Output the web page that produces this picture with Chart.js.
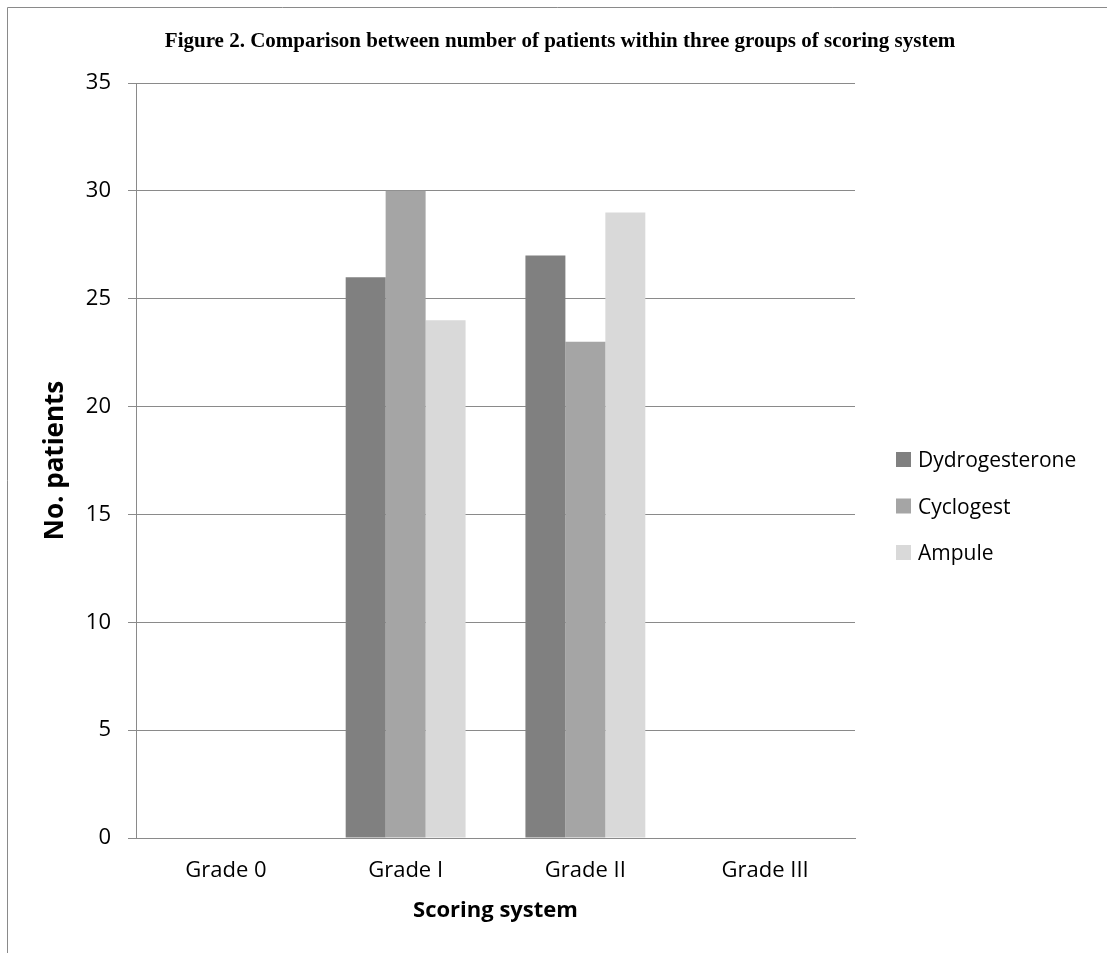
<!DOCTYPE html>
<html>
<head>
<meta charset="utf-8">
<script src="https://cdn.jsdelivr.net/npm/chart.js@4/dist/chart.umd.min.js"></script>
<style>
  html, body { margin: 0; padding: 0; background: #ffffff; }
  canvas { display: block; }
</style>
</head>
<body>
<canvas id="chart" width="1107" height="953"></canvas>
<script>
// Chart content
const chartTitle = 'Figure 2. Comparison between number of patients within three groups of scoring system';
const xAxisTitle = 'Scoring system';
const yAxisTitle = 'No. patients';
const categories = ['Grade 0', 'Grade I', 'Grade II', 'Grade III'];
const seriesNames = ['Dydrogesterone', 'Cyclogest', 'Ampule'];
const dydrogesterone = [0, 26, 27, 0];
const cyclogest = [0, 30, 23, 0];
const ampule = [0, 24, 29, 0];
const yMin = 0;
const yMax = 35;
const yStep = 5;

const seriesColors = ['#808080', '#a5a5a5', '#d9d9d9'];
const lineGray = '#8a8a8a';
const sansFont = "'Open Sans', 'DejaVu Sans', sans-serif";

// Outer frame, figure title and the series key on the right
const decorations = {
  id: 'decorations',
  beforeDraw(chart) {
    const ctx = chart.ctx;
    ctx.save();
    ctx.fillStyle = '#ffffff';
    ctx.fillRect(0, 0, chart.width, chart.height);
    ctx.strokeStyle = lineGray;
    ctx.lineWidth = 1;
    ctx.beginPath();
    ctx.moveTo(7.5, chart.height);
    ctx.lineTo(7.5, 7.5);
    ctx.lineTo(chart.width, 7.5);
    ctx.stroke();
    ctx.restore();
  },
  afterDraw(chart) {
    const ctx = chart.ctx;
    ctx.save();
    ctx.fillStyle = '#000000';
    ctx.font = "bold 21px 'Liberation Serif', 'Times New Roman', serif";
    ctx.textAlign = 'center';
    ctx.textBaseline = 'alphabetic';
    ctx.fillText(chartTitle, 560, 47);

    const boxX = 896, box = 15, textX = 918, firstRow = 459.5, rowStep = 46.5;
    ctx.font = '21px ' + sansFont;
    ctx.textAlign = 'left';
    chart.data.datasets.forEach((ds, i) => {
      const cy = firstRow + i * rowStep;
      ctx.fillStyle = ds.backgroundColor;
      ctx.fillRect(boxX, cy - box / 2, box, box);
      ctx.fillStyle = '#000000';
      ctx.fillText(ds.label, textX, cy + 7.5);
    });
    ctx.restore();
  }
};

const seriesValues = [dydrogesterone, cyclogest, ampule];

new Chart(document.getElementById('chart'), {
  type: 'bar',
  data: {
    labels: categories,
    datasets: seriesNames.map((name, i) => ({
      label: name,
      data: seriesValues[i],
      backgroundColor: seriesColors[i],
      borderWidth: 0,
      categoryPercentage: 0.667,
      barPercentage: 1.0
    }))
  },
  options: {
    responsive: false,
    animation: false,
    layout: { padding: { left: 8, right: 252, top: 83, bottom: 0 } },
    plugins: {
      legend: { display: false },
      title: { display: false },
      tooltip: { enabled: false }
    },
    scales: {
      x: {
        grid: { display: false, drawTicks: false },
        border: { display: true, color: lineGray, width: 1 },
        ticks: { color: '#000000', font: { family: sansFont, size: 22 }, padding: 20 },
        title: {
          display: true, text: xAxisTitle, color: '#000000',
          font: { family: sansFont, size: 22, weight: 'bold' },
          padding: { top: 0, bottom: 29 }
        },
        afterFit(scale) { scale.height = 115; }
      },
      y: {
        min: yMin, max: yMax,
        grid: { color: lineGray, lineWidth: 1, tickLength: 8, drawTicks: true },
        border: { display: true, color: lineGray, width: 1 },
        ticks: { stepSize: yStep, color: '#000000', font: { family: sansFont, size: 22 }, padding: 17 },
        title: {
          display: true, text: yAxisTitle, color: '#000000',
          font: { family: sansFont, size: 26, weight: 'bold' },
          padding: { top: 32, bottom: 0 }
        },
        afterFit(scale) { scale.width = 128; }
      }
    }
  },
  plugins: [decorations]
});
</script>
</body>
</html>
